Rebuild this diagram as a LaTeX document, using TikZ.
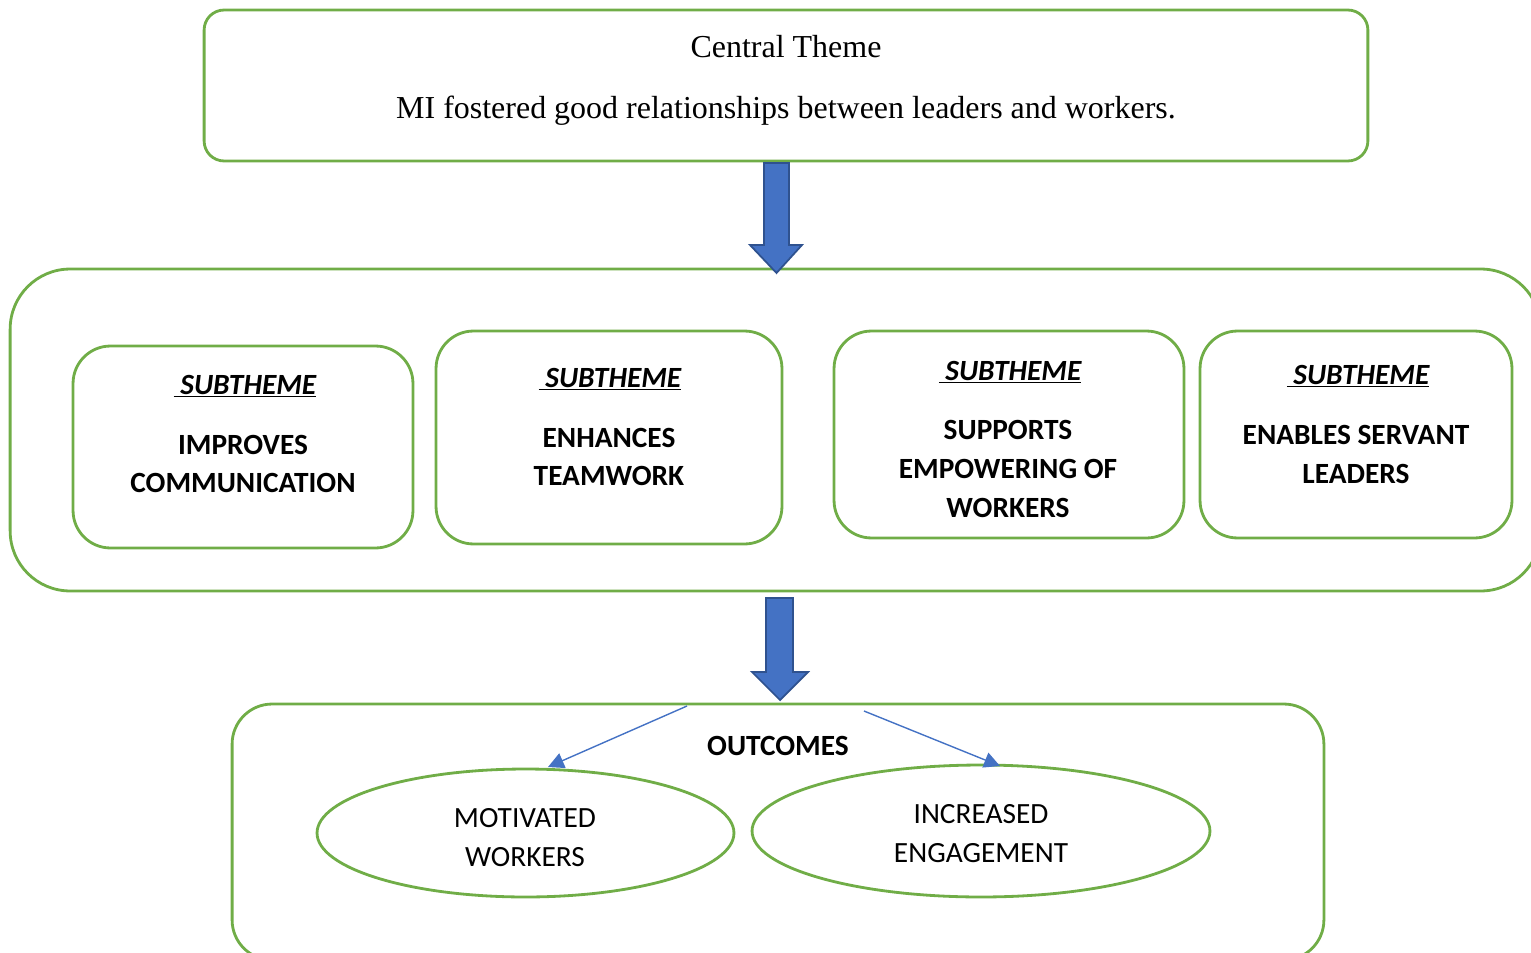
\documentclass[tikz,border=0pt]{standalone}
\usepackage{fontspec}
\setmainfont{Liberation Serif}
\newfontfamily\calib{Carlito}
\usetikzlibrary{shapes.geometric,arrows.meta}
\definecolor{frame}{HTML}{70AD47}
\definecolor{blockblue}{HTML}{4472C4}
\definecolor{blockedge}{HTML}{2F528F}
\begin{document}
\begin{tikzpicture}[x=0.02cm,y=-0.02cm,
  panel/.style={draw=frame,line width=1.6pt,rounded corners=#1,inner sep=0pt},
  oval/.style={ellipse,draw=frame,line width=1.6pt,inner sep=0pt},
  serif/.style={font=\fontsize{18.2}{24}\selectfont,inner sep=0pt},
  head/.style={font=\calib\bfseries\itshape\fontsize{16.7}{22}\selectfont,inner sep=0pt,anchor=base},
  body/.style={font=\calib\bfseries\fontsize{16.7}{22}\selectfont,align=center,inner sep=0pt},
  plain/.style={font=\calib\fontsize{16.7}{22}\selectfont,align=center,inner sep=0pt},
  blockarrow/.style={fill=blockblue,draw=blockedge,line width=1pt},
  thin/.style={draw=blockblue,line width=0.8pt,-{Triangle[length=9pt,width=9pt]}}
]
\useasboundingbox (0,0) rectangle (1531,953);
\clip (0,0) rectangle (1531,953);

% central theme
\node[panel=0.4cm,minimum width=23.28cm,minimum height=3.02cm] (central) at (786,85.5) {};
\node[serif,anchor=base] (ctitle) at (786,58) {Central Theme};
\node[serif,anchor=base] (ctext) at (786,118) {MI fostered good relationships between leaders and workers.};

% subthemes panel
\node[panel=1.2cm,minimum width=30.62cm,minimum height=6.44cm] (subpanel) at (775.5,430) {};

\node[panel=0.75cm,minimum width=6.8cm,minimum height=4.04cm] (s1) at (243,447) {};
\node[panel=0.75cm,minimum width=6.92cm,minimum height=4.26cm] (s2) at (609,437.5) {};
\node[panel=0.75cm,minimum width=7.0cm,minimum height=4.14cm] (s3) at (1009,434.5) {};
\node[panel=0.75cm,minimum width=6.24cm,minimum height=4.14cm] (s4) at (1356,434.5) {};

\node[head] (h1) at (245,394) {\underline{\ SUBTHEME}};
\node[head] (h2) at (610,387) {\underline{\ SUBTHEME}};
\node[head] (h3) at (1010,380) {\underline{\ SUBTHEME}};
\node[head] (h4) at (1358,384) {\underline{\ SUBTHEME}};

\node[body] (t1) at (243,464) {IMPROVES\\COMMUNICATION};
\node[body] (t2) at (609,457) {ENHANCES\\TEAMWORK};
\node[body] (t3) at (1008,469) {SUPPORTS\\EMPOWERING OF\\WORKERS};
\node[body] (t4) at (1356,454.5) {ENABLES SERVANT\\LEADERS};

% outcomes panel
\node[panel=0.8cm,minimum width=21.84cm,minimum height=5.12cm] (outpanel) at (778,832) {};
\node[body] (otitle) at (778,746) {OUTCOMES};
\node[oval,minimum width=8.34cm,minimum height=2.56cm] (o1) at (525.5,833) {};
\node[oval,minimum width=9.16cm,minimum height=2.64cm] (o2) at (981,831) {};
\node[plain] (ot1) at (525,837.5) {MOTIVATED\\WORKERS};
\node[plain] (ot2) at (981,833.5) {INCREASED\\ENGAGEMENT};

% block arrows between panels
\draw[blockarrow] (764,163) -- (789,163) -- (789,245) -- (802,245) -- (776.5,273)
  -- (750,245) -- (764,245) -- cycle;
\draw[blockarrow] (766,598) -- (793,598) -- (793,672) -- (808,672) -- (780,700)
  -- (752,672) -- (766,672) -- cycle;

% arrows to the outcomes
\coordinate (fromL) at (687,706);
\coordinate (fromR) at (864,711);
\coordinate (toL) at (548,767);
\coordinate (toR) at (1000,766);
\draw[thin] (fromL) -- (toL);
\draw[thin] (fromR) -- (toR);
\end{tikzpicture}
\end{document}
